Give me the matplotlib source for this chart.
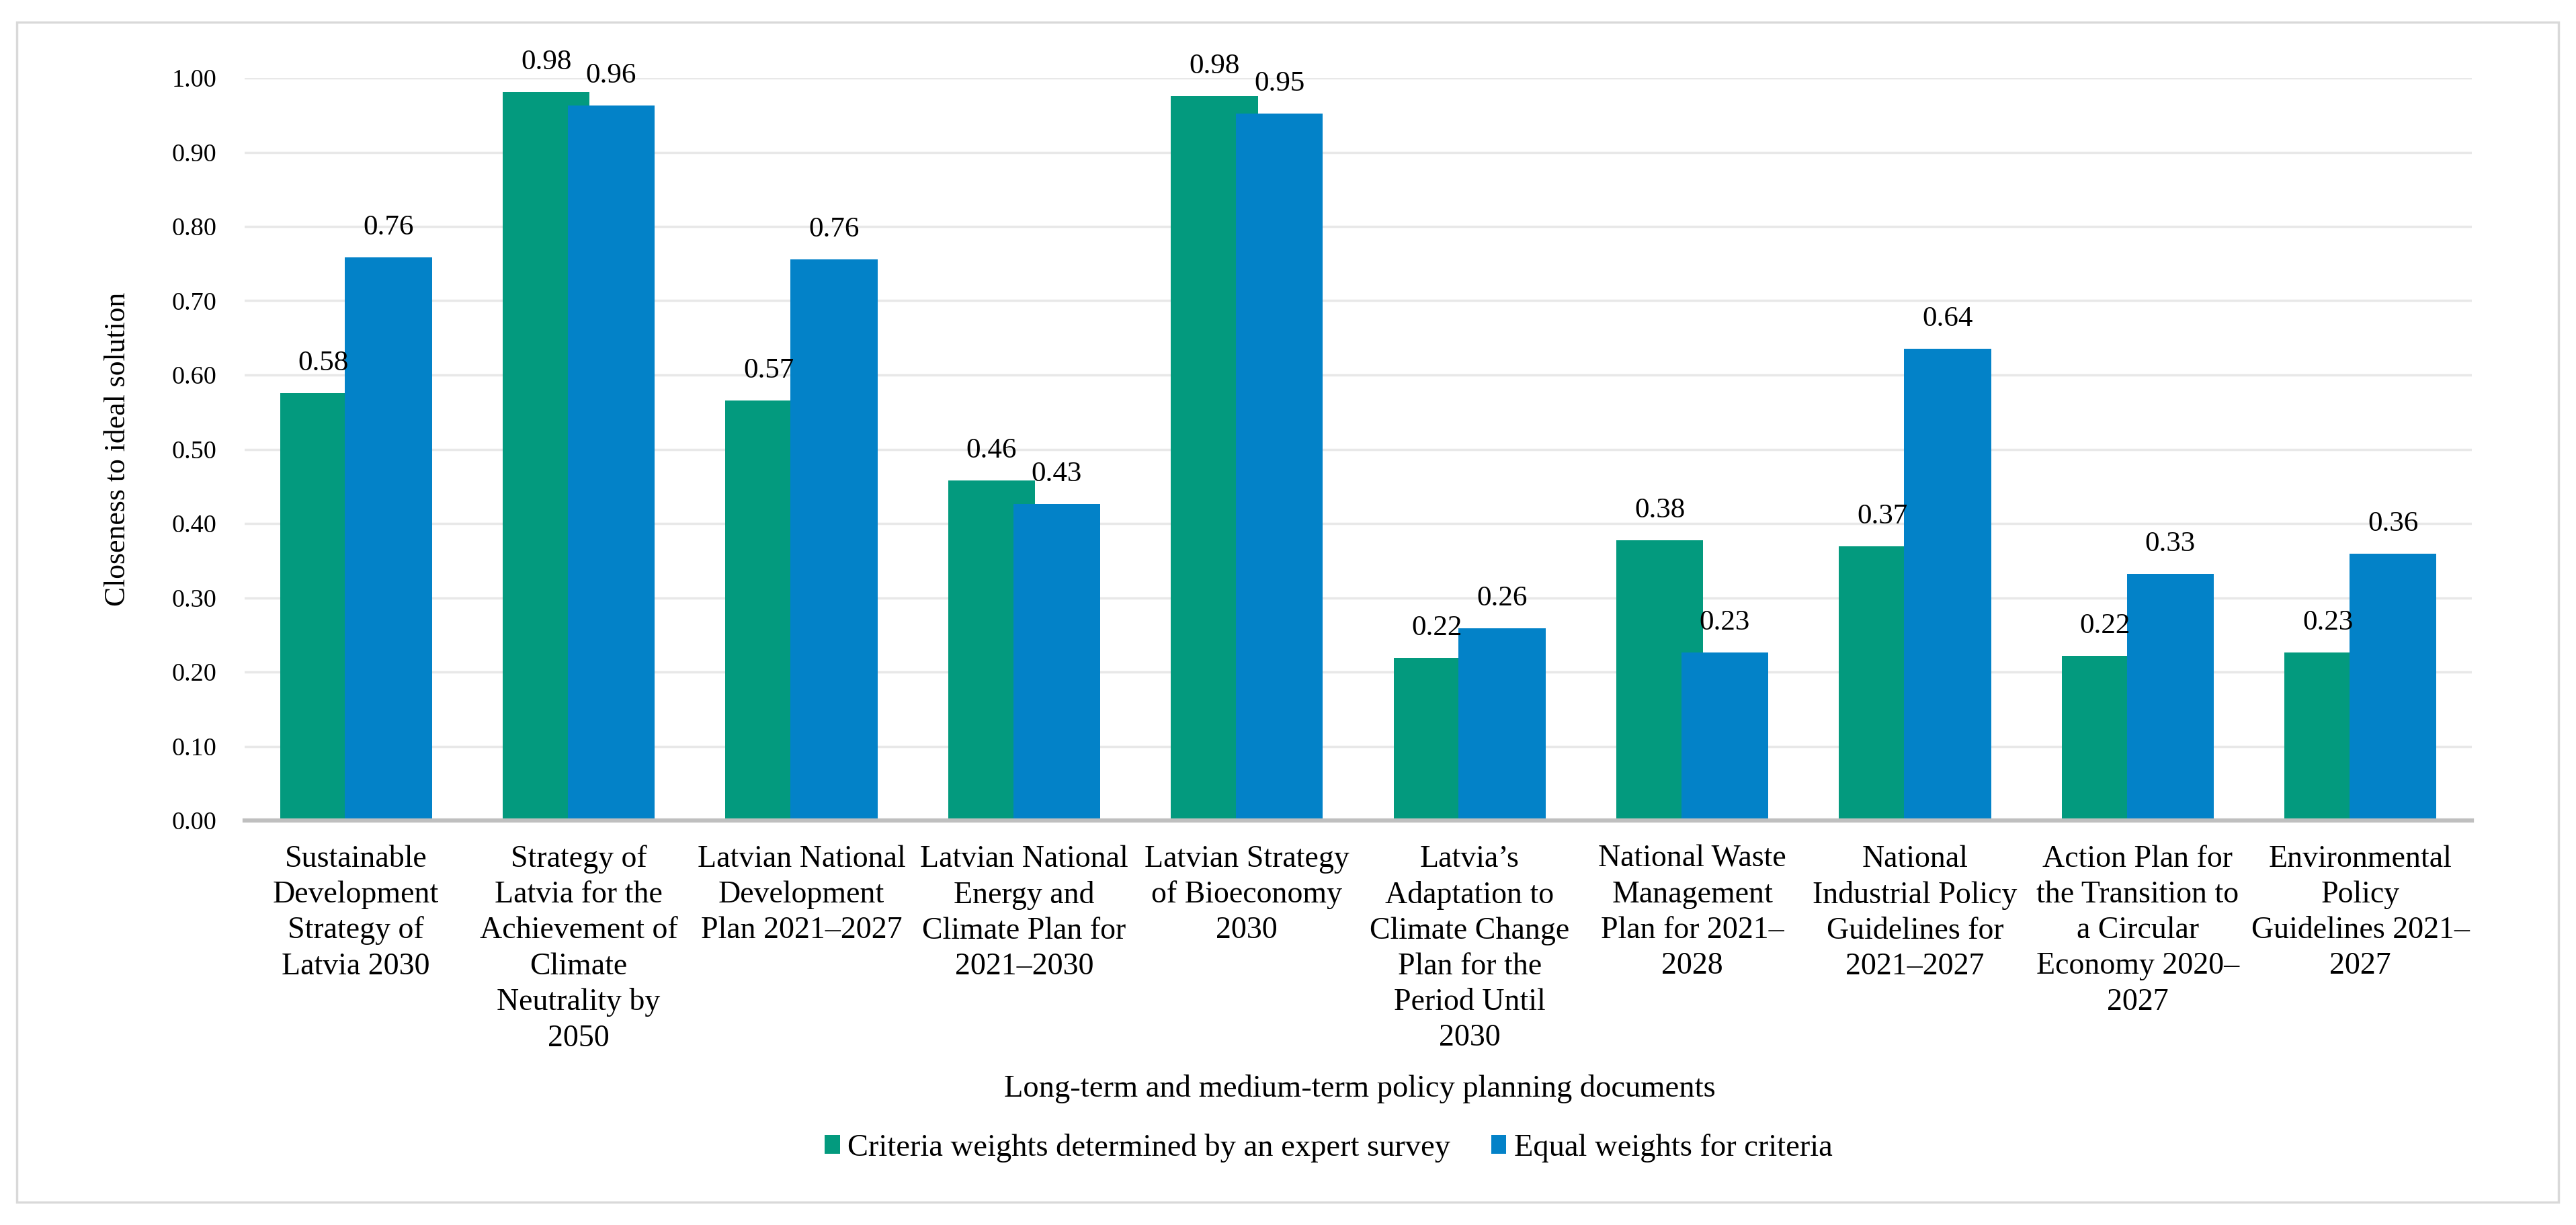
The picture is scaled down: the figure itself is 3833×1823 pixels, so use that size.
import numpy as np
import matplotlib.pyplot as plt
from matplotlib.patches import Rectangle

plt.rcParams['font.family'] = ['Liberation Serif', 'DejaVu Serif']

categories = [
    "Sustainable\nDevelopment\nStrategy of\nLatvia 2030",
    "Strategy of\nLatvia for the\nAchievement of\nClimate\nNeutrality by\n2050",
    "Latvian National\nDevelopment\nPlan 2021\u20132027",
    "Latvian National\nEnergy and\nClimate Plan for\n2021\u20132030",
    "Latvian Strategy\nof Bioeconomy\n2030",
    "Latvia\u2019s\nAdaptation to\nClimate Change\nPlan for the\nPeriod Until\n2030",
    "National Waste\nManagement\nPlan for 2021\u2013\n2028",
    "National\nIndustrial Policy\nGuidelines for\n2021\u20132027",
    "Action Plan for\nthe Transition to\na Circular\nEconomy 2020\u2013\n2027",
    "Environmental\nPolicy\nGuidelines 2021\u2013\n2027",
]
expert = [0.576, 0.981, 0.566, 0.458, 0.976, 0.219, 0.377, 0.369, 0.222, 0.226]
equal = [0.758, 0.963, 0.756, 0.426, 0.952, 0.259, 0.226, 0.635, 0.332, 0.359]
series_names = ["Criteria weights determined by an expert survey", "Equal weights for criteria"]
yticks = np.arange(0, 1.01, 0.1)

green = "#039A7E"
blue = "#0382C8"

W, H = 3833, 1823
fig = plt.figure(figsize=(W / 100, H / 100), dpi=100)

# light frame around the whole chart
fig.patches.append(Rectangle((25 / W, 1 - 1789 / H), 3782 / W, 1756 / H,
                             transform=fig.transFigure, fill=False,
                             edgecolor="#D9D9D9", lw=2.5))

ax = fig.add_axes([364 / W, 1 - 1221 / H, 3314 / W, 1105 / H])

x = np.arange(len(categories))
w = 0.39
off = 0.146
b1 = ax.bar(x - off, expert, w, color=green, label=series_names[0], zorder=2)
b2 = ax.bar(x + off, equal, w, color=blue, label=series_names[1], zorder=3)

for bars, vals in [(b1, expert), (b2, equal)]:
    for r, v in zip(bars, vals):
        ax.text(r.get_x() + r.get_width() / 2, v + 0.04, f"{v:.2f}",
                ha="center", va="center", fontsize=31, clip_on=False, zorder=5)

ax.set_xlim(-0.5, len(categories) - 0.5)
ax.set_ylim(0, 1.0)
ax.set_yticks(yticks)
ax.set_yticklabels([f"{t:.2f}" for t in yticks], fontsize=27.5)
ax.set_xticks(x)
ax.set_xticklabels(categories, fontsize=33, linespacing=1.33, va="top")
ax.tick_params(axis="both", length=0)
ax.tick_params(axis="x", pad=26)
ax.tick_params(axis="y", pad=30)

ax.grid(axis="y", color="#E8E8E8", lw=2.5, zorder=0)
for s in ["top", "right", "left"]:
    ax.spines[s].set_visible(False)
ax.spines["bottom"].set_color("#BFBFBF")
ax.spines["bottom"].set_linewidth(4.5)
ax.spines["bottom"].set_zorder(4)

ax.set_ylabel("Closeness to ideal solution", fontsize=31.5)
ax.yaxis.set_label_coords(-0.051, 0.5)

fig.text(2023 / W, 1 - 1620 / H, "Long-term and medium-term policy planning documents",
         ha="center", va="center", fontsize=33.5)

fig.legend(handles=[b1, b2], labels=series_names, loc="center",
           bbox_to_anchor=(1977 / W, 1 - 1708 / H), ncol=2, frameon=False,
           fontsize=33.5, handlelength=0.48, handleheight=0.55, handletextpad=0.25,
           columnspacing=1.3, borderpad=0)

fig.savefig("out.png", dpi=100)
